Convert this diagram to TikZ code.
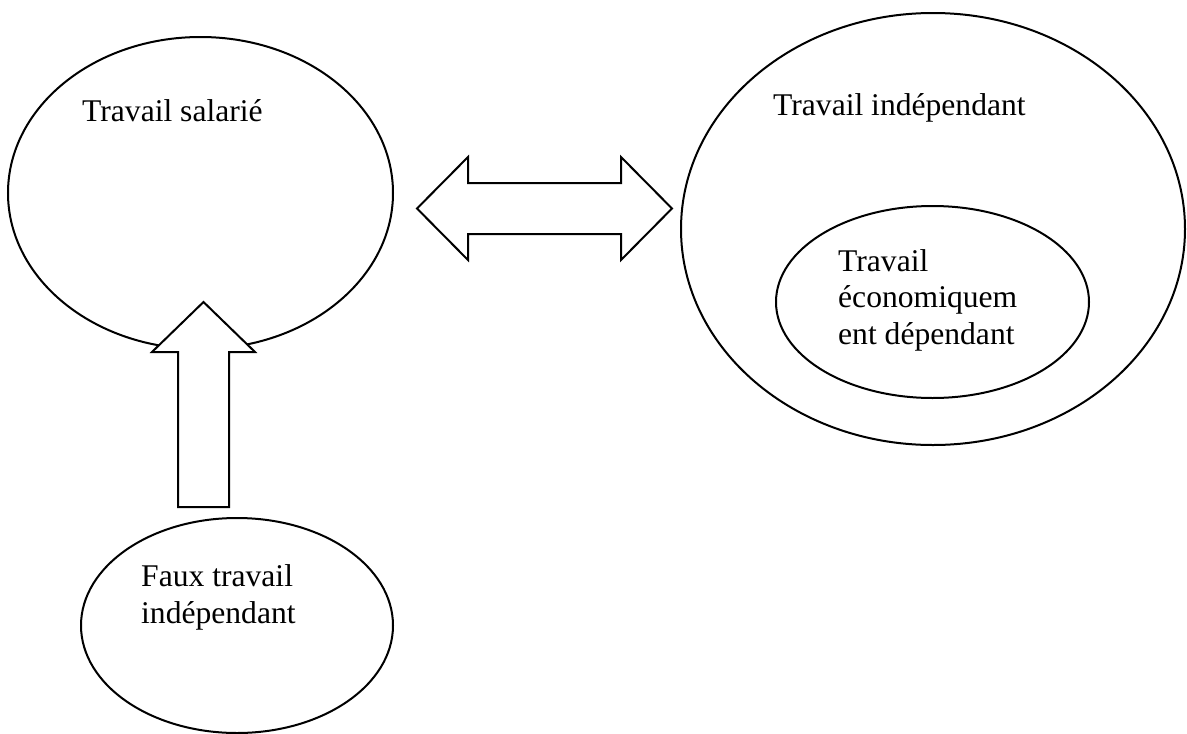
\documentclass[tikz,border=0pt]{standalone}
\usepackage{fontspec}
\setmainfont{Liberation Serif}
\usetikzlibrary{calc}
\begin{document}
\begin{tikzpicture}[x=1pt,y=-1pt,
  outline/.style={draw=black,line width=2pt,fill=white},
  lbl/.style={anchor=base west,inner sep=0pt,align=left,font=\fontsize{31.6}{36.5}\selectfont}]
\useasboundingbox (0,0) rectangle (1187,734);
% ellipses
\draw[outline] (200.5,193) ellipse [x radius=192.5, y radius=156];
\draw[outline] (933,229) ellipse [x radius=252, y radius=216];
\draw[outline] (932.5,302) ellipse [x radius=156.5, y radius=96];
\draw[outline] (237,625.5) ellipse [x radius=156, y radius=107.5];
% labels (base = baseline of the last line)
\node[lbl] (sal) at (82,121) {Travail salarié};
\node[lbl] (ind) at (773,115) {Travail indépendant};
\node[lbl] (eco) at (838,344) {Travail\\économiquem\\ent dépendant};
\node[lbl] (faux) at (141,623) {Faux travail\\indépendant};
% double arrow
\coordinate (dl) at (417,208.5);
\coordinate (dr) at (672,208.5);
\draw[outline,line join=miter] (dl) -- ($(dl)+(51,-51.5)$) -- ($(dl)+(51,-25.5)$)
  -- ($(dr)+(-51,-25.5)$) -- ($(dr)+(-51,-51.5)$) -- (dr)
  -- ($(dr)+(-51,51.5)$) -- ($(dr)+(-51,25.5)$) -- ($(dl)+(51,25.5)$)
  -- ($(dl)+(51,51.5)$) -- cycle;
% up arrow
\coordinate (ut) at (203.5,302);
\coordinate (ub) at (203.5,507);
\draw[outline,line join=miter] (ut) -- ($(ut)+(51.5,50)$) -- ($(ut)+(25.5,50)$)
  -- ($(ub)+(25.5,0)$) -- ($(ub)+(-25.5,0)$) -- ($(ut)+(-25.5,50)$)
  -- ($(ut)+(-51.5,50)$) -- cycle;
\end{tikzpicture}
\end{document}
